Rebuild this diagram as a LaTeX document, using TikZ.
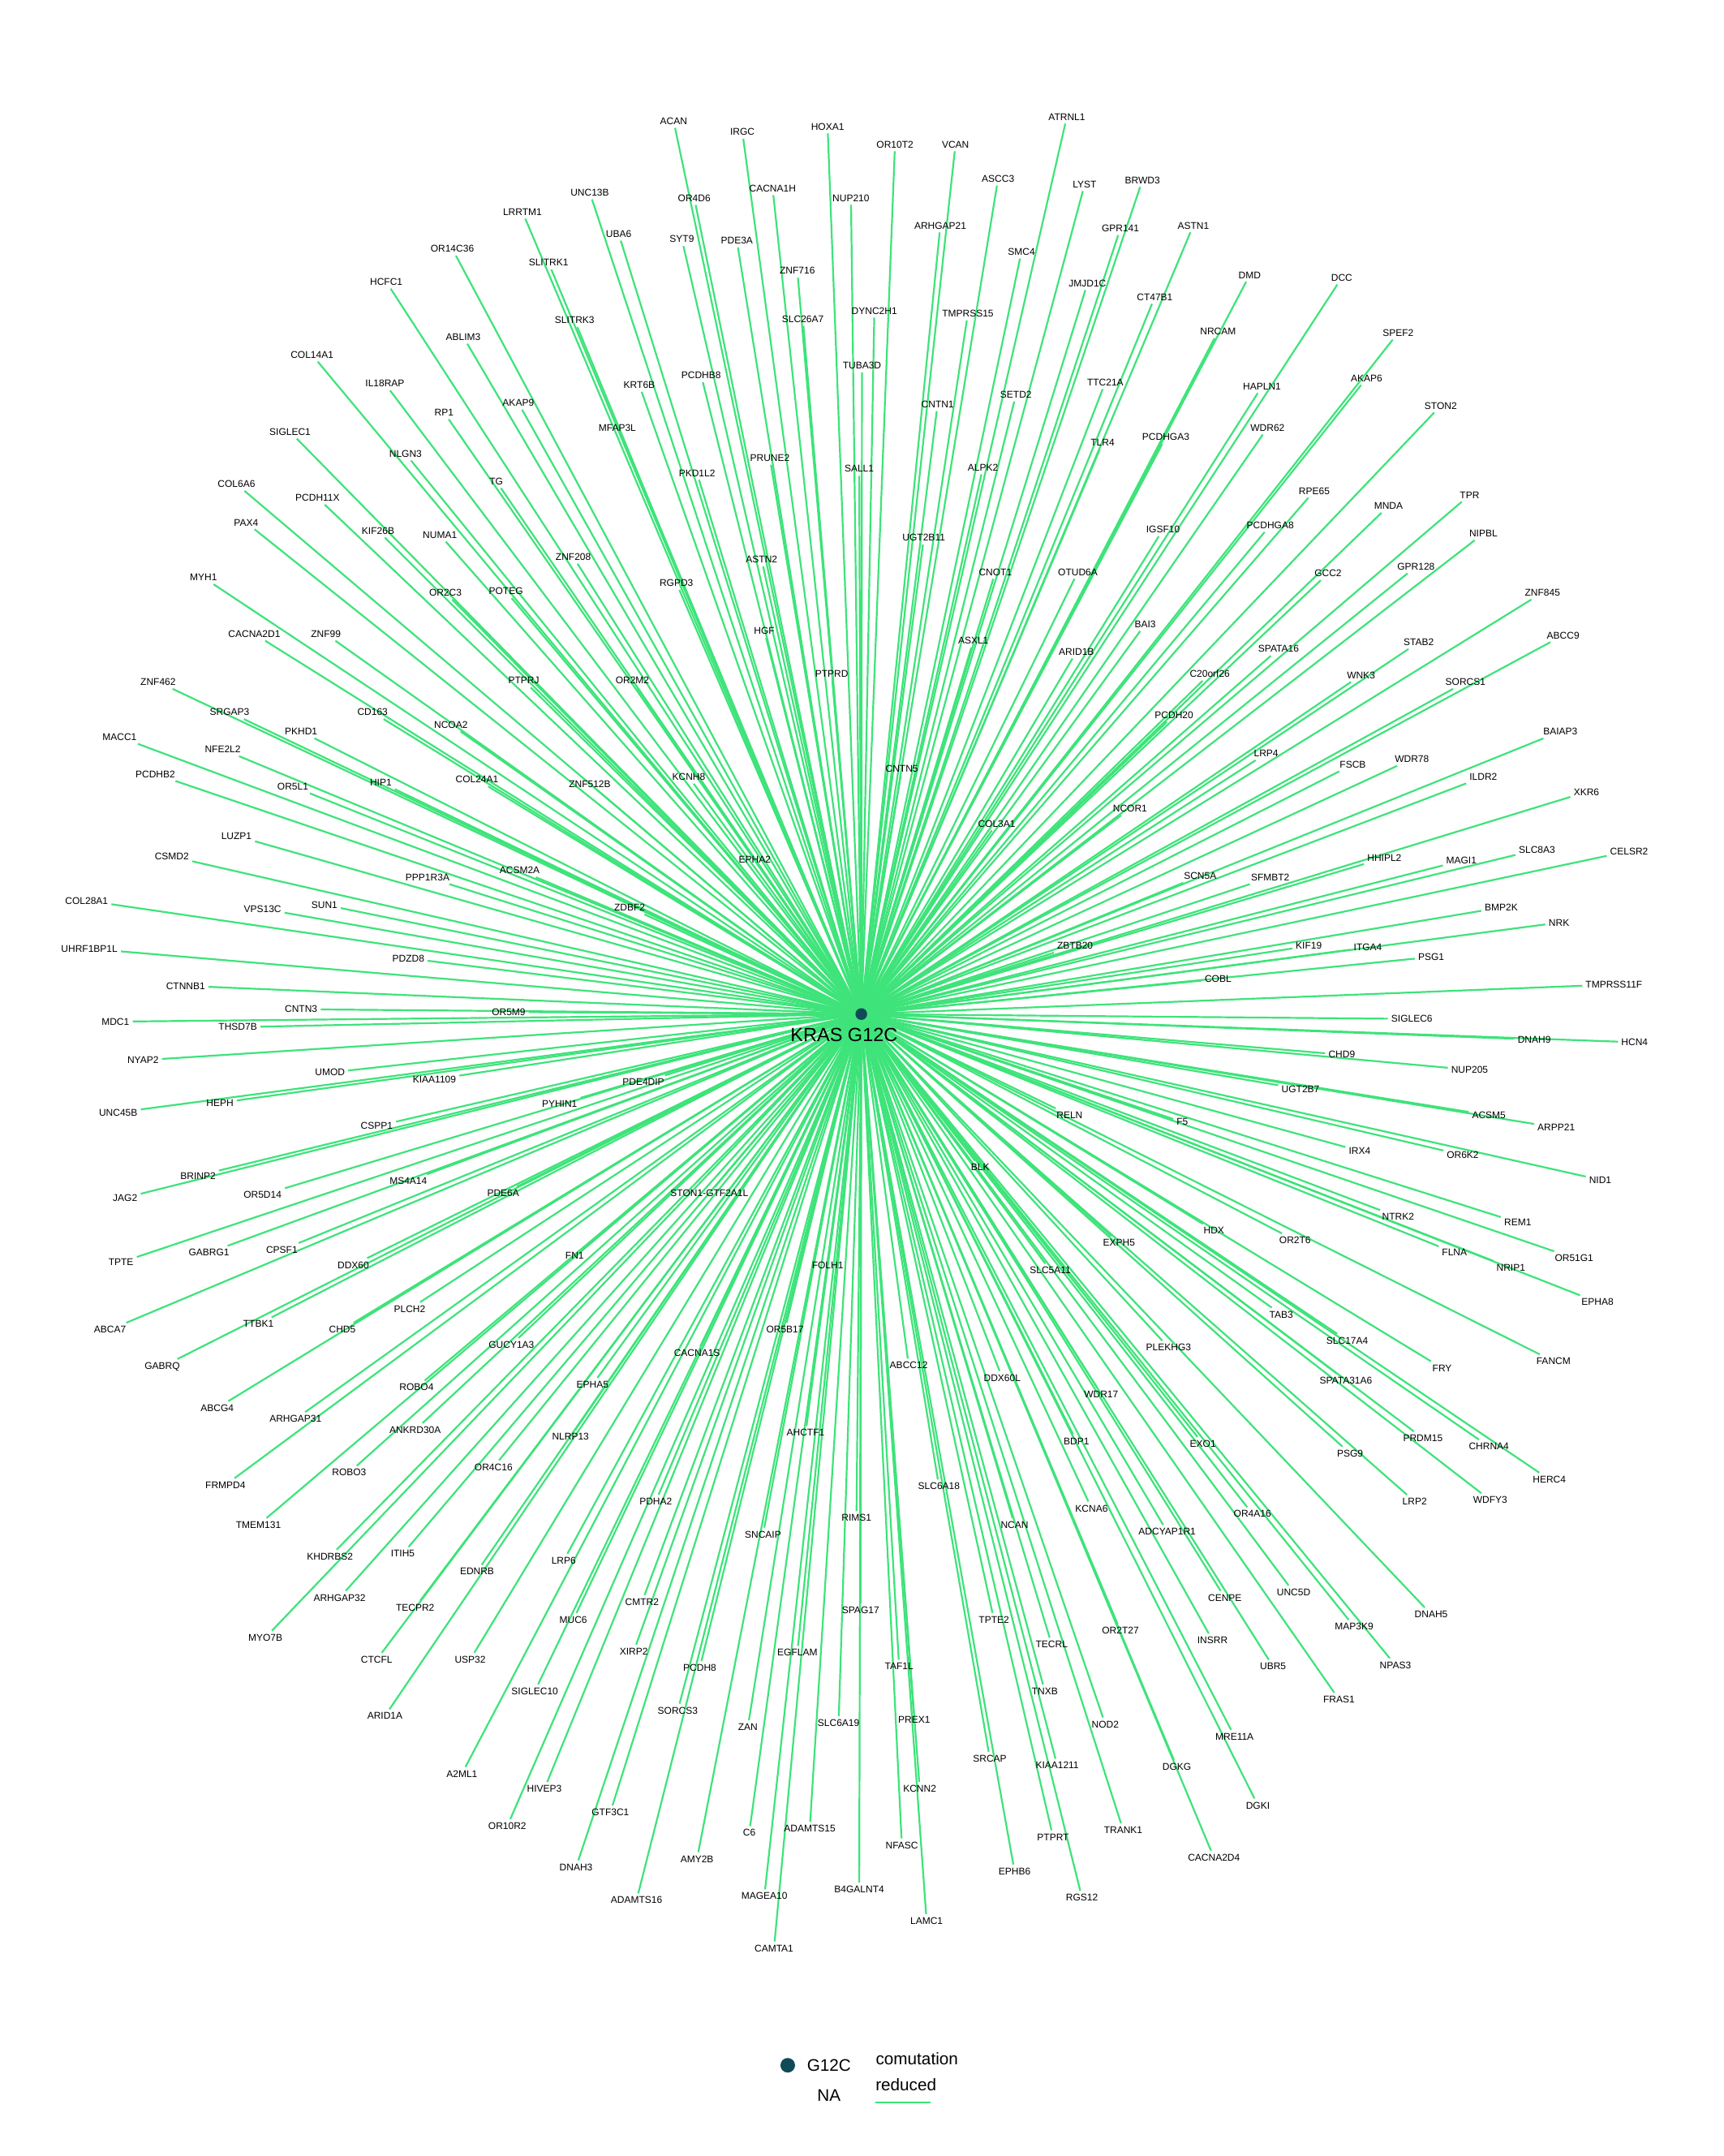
\documentclass[tikz,border=0pt]{standalone}
\usepackage{fontspec}
\setmainfont{Liberation Sans}
\usetikzlibrary{backgrounds}
\definecolor{comut}{RGB}{62,227,122}
\definecolor{hubteal}{RGB}{16,74,88}

\begin{document}
\begin{tikzpicture}[x=1.6946pt,y=-1.6946pt,
  gene/.style={font=\fontsize{12}{14}\selectfont,inner sep=4pt},
  edge/.style={draw=comut,line width=2.2pt},
  hub/.style={circle,fill=hubteal,minimum size=14.5pt,inner sep=0pt},
  legtext/.style={font=\fontsize{20.7}{24}\selectfont,inner sep=0pt}]
\useasboundingbox (0,0) rectangle (1254,1568);

\node[hub] (k) at (626.5,737.5) {};
\node[font=\fontsize{23.5}{28}\selectfont,inner sep=0pt] (klabel) at (614,752.5) {KRAS G12C};

\node[gene] (g1) at (490,88) {ACAN};
\node[gene] (g2) at (540,96) {IRGC};
\node[gene] (g3) at (602,92) {HOXA1};
\node[gene] (g4) at (651,105) {OR10T2};
\node[gene] (g5) at (695,105) {VCAN};
\node[gene] (g6) at (776,85) {ATRNL1};
\node[gene] (g7) at (726,130) {ASCC3};
\node[gene] (g8) at (789,134) {LYST};
\node[gene] (g9) at (831,131) {BRWD3};
\node[gene] (g10) at (429,140) {UNC13B};
\node[gene] (g11) at (505,144) {OR4D6};
\node[gene] (g12) at (562,137) {CACNA1H};
\node[gene] (g13) at (619,144) {NUP210};
\node[gene] (g14) at (380,154) {LRRTM1};
\node[gene] (g15) at (684,164) {ARHGAP21};
\node[gene] (g16) at (815,166) {GPR141};
\node[gene] (g17) at (868,164) {ASTN1};
\node[gene] (g18) at (450,170) {UBA6};
\node[gene] (g19) at (496,174) {SYT9};
\node[gene] (g20) at (536,175) {PDE3A};
\node[gene] (g21) at (329,181) {OR14C36};
\node[gene] (g22) at (743,183) {SMC4};
\node[gene] (g23) at (399,191) {SLITRK1};
\node[gene] (g24) at (580,197) {ZNF716};
\node[gene] (g25) at (909,200) {DMD};
\node[gene] (g26) at (281,205) {HCFC1};
\node[gene] (g27) at (791,206) {JMJD1C};
\node[gene] (g28) at (976,202) {DCC};
\node[gene] (g29) at (840,216) {CT47B1};
\node[gene] (g30) at (636,226) {DYNC2H1};
\node[gene] (g31) at (704,228) {TMPRSS15};
\node[gene] (g32) at (418,233) {SLITRK3};
\node[gene] (g33) at (584,232) {SLC26A7};
\node[gene] (g34) at (337,245) {ABLIM3};
\node[gene] (g35) at (886,241) {NRCAM};
\node[gene] (g36) at (1017,242) {SPEF2};
\node[gene] (g37) at (227,258) {COL14A1};
\node[gene] (g38) at (627,266) {TUBA3D};
\node[gene] (g39) at (510,273) {PCDHB8};
\node[gene] (g40) at (280,279) {IL18RAP};
\node[gene] (g41) at (465,280) {KRT6B};
\node[gene] (g42) at (804,278) {TTC21A};
\node[gene] (g43) at (994,275) {AKAP6};
\node[gene] (g44) at (918,281) {HAPLN1};
\node[gene] (g45) at (739,287) {SETD2};
\node[gene] (g46) at (682,294) {CNTN1};
\node[gene] (g47) at (377,293) {AKAP9};
\node[gene] (g48) at (1048,295) {STON2};
\node[gene] (g49) at (323,300) {RP1};
\node[gene] (g50) at (449,311) {MFAP3L};
\node[gene] (g51) at (211,314) {SIGLEC1};
\node[gene] (g52) at (922,311) {WDR62};
\node[gene] (g53) at (848,318) {PCDHGA3};
\node[gene] (g54) at (802,322) {TLR4};
\node[gene] (g55) at (295,330) {NLGN3};
\node[gene] (g56) at (560,333) {PRUNE2};
\node[gene] (g57) at (715,340) {ALPK2};
\node[gene] (g58) at (625,341) {SALL1};
\node[gene] (g59) at (507,344) {PKD1L2};
\node[gene] (g60) at (361,350) {TG};
\node[gene] (g61) at (172,352) {COL6A6};
\node[gene] (g62) at (956,357) {RPE65};
\node[gene] (g63) at (1069,360) {TPR};
\node[gene] (g64) at (231,362) {PCDH11X};
\node[gene] (g65) at (1010,368) {MNDA};
\node[gene] (g66) at (179,380) {PAX4};
\node[gene] (g67) at (846,385) {IGSF10};
\node[gene] (g68) at (924,382) {PCDHGA8};
\node[gene] (g69) at (275,386) {KIF26B};
\node[gene] (g70) at (320,389) {NUMA1};
\node[gene] (g71) at (1079,388) {NIPBL};
\node[gene] (g72) at (672,391) {UGT2B11};
\node[gene] (g73) at (724,416) {CNOT1};
\node[gene] (g74) at (784,416) {OTUD6A};
\node[gene] (g75) at (1030,412) {GPR128};
\node[gene] (g76) at (966,417) {GCC2};
\node[gene] (g77) at (554,407) {ASTN2};
\node[gene] (g78) at (417,405) {ZNF208};
\node[gene] (g79) at (148,420) {MYH1};
\node[gene] (g80) at (492,424) {RGPD3};
\node[gene] (g81) at (324,431) {OR2C3};
\node[gene] (g82) at (368,430) {POTEG};
\node[gene] (g83) at (1122,431) {ZNF845};
\node[gene] (g84) at (833,454) {BAI3};
\node[gene] (g85) at (556,459) {HGF};
\node[gene] (g86) at (185,461) {CACNA2D1};
\node[gene] (g87) at (237,461) {ZNF99};
\node[gene] (g88) at (1137,462) {ABCC9};
\node[gene] (g89) at (708,466) {ASXL1};
\node[gene] (g90) at (930,472) {SPATA16};
\node[gene] (g91) at (783,474) {ARID1B};
\node[gene] (g92) at (1032,467) {STAB2};
\node[gene] (g93) at (880,490) {C20orf26};
\node[gene] (g94) at (605,490) {PTPRD};
\node[gene] (g95) at (381,495) {PTPRJ};
\node[gene] (g96) at (460,495) {OR2M2};
\node[gene] (g97) at (990,491) {WNK3};
\node[gene] (g98) at (1066,496) {SORCS1};
\node[gene] (g99) at (115,496) {ZNF462};
\node[gene] (g100) at (167,518) {SRGAP3};
\node[gene] (g101) at (271,518) {CD163};
\node[gene] (g102) at (854,520) {PCDH20};
\node[gene] (g103) at (328,527) {NCOA2};
\node[gene] (g104) at (219,532) {PKHD1};
\node[gene] (g105) at (1135,532) {BAIAP3};
\node[gene] (g106) at (87,536) {MACC1};
\node[gene] (g107) at (921,548) {LRP4};
\node[gene] (g108) at (162,545) {NFE2L2};
\node[gene] (g109) at (984,556) {FSCB};
\node[gene] (g110) at (1027,552) {WDR78};
\node[gene] (g111) at (656,559) {CNTN5};
\node[gene] (g112) at (113,563) {PCDHB2};
\node[gene] (g113) at (1079,565) {ILDR2};
\node[gene] (g114) at (501,565) {KCNH8};
\node[gene] (g115) at (277,569) {HIP1};
\node[gene] (g116) at (347,567) {COL24A1};
\node[gene] (g117) at (429,570) {ZNF512B};
\node[gene] (g118) at (213,572) {OR5L1};
\node[gene] (g119) at (1154,576) {XKR6};
\node[gene] (g120) at (725,599) {COL3A1};
\node[gene] (g121) at (822,588) {NCOR1};
\node[gene] (g122) at (172,608) {LUZP1};
\node[gene] (g123) at (1118,618) {SLC8A3};
\node[gene] (g124) at (1185,619) {CELSR2};
\node[gene] (g125) at (125,623) {CSMD2};
\node[gene] (g126) at (1007,624) {HHIPL2};
\node[gene] (g127) at (1063,626) {MAGI1};
\node[gene] (g128) at (549,625) {EPHA2};
\node[gene] (g129) at (311,638) {PPP1R3A};
\node[gene] (g130) at (378,633) {ACSM2A};
\node[gene] (g131) at (873,637) {SCN5A};
\node[gene] (g132) at (924,638) {SFMBT2};
\node[gene] (g133) at (63,655) {COL28A1};
\node[gene] (g134) at (236,658) {SUN1};
\node[gene] (g135) at (191,661) {VPS13C};
\node[gene] (g136) at (458,660) {ZDBF2};
\node[gene] (g137) at (1092,660) {BMP2K};
\node[gene] (g138) at (1134,671) {NRK};
\node[gene] (g139) at (65,690) {UHRF1BP1L};
\node[gene] (g140) at (782,688) {ZBTB20};
\node[gene] (g141) at (952,688) {KIF19};
\node[gene] (g142) at (995,689) {ITGA4};
\node[gene] (g143) at (1041,696) {PSG1};
\node[gene] (g144) at (297,697) {PDZD8};
\node[gene] (g145) at (886,712) {COBL};
\node[gene] (g146) at (1174,716) {TMPRSS11F};
\node[gene] (g147) at (135,717) {CTNNB1};
\node[gene] (g148) at (219,734) {CNTN3};
\node[gene] (g149) at (370,736) {OR5M9};
\node[gene] (g150) at (84,743) {MDC1};
\node[gene] (g151) at (1027,741) {SIGLEC6};
\node[gene] (g152) at (173,747) {THSD7B};
\node[gene] (g153) at (1116,756) {DNAH9};
\node[gene] (g154) at (1189,758) {HCN4};
\node[gene] (g155) at (976,767) {CHD9};
\node[gene] (g156) at (104,771) {NYAP2};
\node[gene] (g157) at (1069,778) {NUP205};
\node[gene] (g158) at (240,780) {UMOD};
\node[gene] (g159) at (316,785) {KIAA1109};
\node[gene] (g160) at (468,787) {PDE4DIP};
\node[gene] (g161) at (946,792) {UGT2B7};
\node[gene] (g162) at (160,802) {HEPH};
\node[gene] (g163) at (407,803) {PYHIN1};
\node[gene] (g164) at (1083,811) {ACSM5};
\node[gene] (g165) at (778,811) {RELN};
\node[gene] (g166) at (860,816) {F5};
\node[gene] (g167) at (86,809) {UNC45B};
\node[gene] (g168) at (1132,820) {ARPP21};
\node[gene] (g169) at (274,819) {CSPP1};
\node[gene] (g170) at (989,837) {IRX4};
\node[gene] (g171) at (1064,840) {OR6K2};
\node[gene] (g172) at (713,849) {BLK};
\node[gene] (g173) at (1164,858) {NID1};
\node[gene] (g174) at (144,855) {BRINP2};
\node[gene] (g175) at (297,859) {MS4A14};
\node[gene] (g176) at (191,869) {OR5D14};
\node[gene] (g177) at (366,868) {PDE6A};
\node[gene] (g178) at (91,871) {JAG2};
\node[gene] (g179) at (516,868) {STON1-GTF2A1L};
\node[gene] (g180) at (1017,885) {NTRK2};
\node[gene] (g181) at (1104,889) {REM1};
\node[gene] (g182) at (883,895) {HDX};
\node[gene] (g183) at (942,902) {OR2T6};
\node[gene] (g184) at (814,904) {EXPH5};
\node[gene] (g185) at (1058,911) {FLNA};
\node[gene] (g186) at (1145,915) {OR51G1};
\node[gene] (g187) at (88,918) {TPTE};
\node[gene] (g188) at (152,911) {GABRG1};
\node[gene] (g189) at (205,909) {CPSF1};
\node[gene] (g190) at (418,913) {FN1};
\node[gene] (g191) at (257,920) {DDX60};
\node[gene] (g192) at (602,920) {FOLH1};
\node[gene] (g193) at (1099,922) {NRIP1};
\node[gene] (g194) at (764,924) {SLC5A11};
\node[gene] (g195) at (1162,947) {EPHA8};
\node[gene] (g196) at (298,952) {PLCH2};
\node[gene] (g197) at (932,956) {TAB3};
\node[gene] (g198) at (188,963) {TTBK1};
\node[gene] (g199) at (80,967) {ABCA7};
\node[gene] (g200) at (249,967) {CHD5};
\node[gene] (g201) at (571,967) {OR5B17};
\node[gene] (g202) at (980,975) {SLC17A4};
\node[gene] (g203) at (372,978) {GUCY1A3};
\node[gene] (g204) at (850,980) {PLEKHG3};
\node[gene] (g205) at (507,984) {CACNA1S};
\node[gene] (g206) at (1049,995) {FRY};
\node[gene] (g207) at (118,994) {GABRQ};
\node[gene] (g208) at (1130,990) {FANCM};
\node[gene] (g209) at (661,993) {ABCC12};
\node[gene] (g210) at (729,1002) {DDX60L};
\node[gene] (g211) at (979,1004) {SPATA31A6};
\node[gene] (g212) at (303,1009) {ROBO4};
\node[gene] (g213) at (431,1007) {EPHA5};
\node[gene] (g214) at (801,1014) {WDR17};
\node[gene] (g215) at (158,1024) {ABCG4};
\node[gene] (g216) at (215,1032) {ARHGAP31};
\node[gene] (g217) at (302,1040) {ANKRD30A};
\node[gene] (g218) at (586,1042) {AHCTF1};
\node[gene] (g219) at (415,1045) {NLRP13};
\node[gene] (g220) at (783,1048) {BDP1};
\node[gene] (g221) at (1035,1046) {PRDM15};
\node[gene] (g222) at (875,1050) {EXO1};
\node[gene] (g223) at (1083,1052) {CHRNA4};
\node[gene] (g224) at (982,1057) {PSG9};
\node[gene] (g225) at (359,1067) {OR4C16};
\node[gene] (g226) at (254,1071) {ROBO3};
\node[gene] (g227) at (164,1080) {FRMPD4};
\node[gene] (g228) at (683,1081) {SLC6A18};
\node[gene] (g229) at (1127,1076) {HERC4};
\node[gene] (g230) at (477,1092) {PDHA2};
\node[gene] (g231) at (1029,1092) {LRP2};
\node[gene] (g232) at (1084,1091) {WDFY3};
\node[gene] (g233) at (794,1097) {KCNA6};
\node[gene] (g234) at (911,1101) {OR4A16};
\node[gene] (g235) at (623,1104) {RIMS1};
\node[gene] (g236) at (738,1109) {NCAN};
\node[gene] (g237) at (188,1109) {TMEM131};
\node[gene] (g238) at (849,1114) {ADCYAP1R1};
\node[gene] (g239) at (555,1116) {SNCAIP};
\node[gene] (g240) at (293,1130) {ITIH5};
\node[gene] (g241) at (240,1132) {KHDRBS2};
\node[gene] (g242) at (347,1143) {EDNRB};
\node[gene] (g243) at (410,1135) {LRP6};
\node[gene] (g244) at (247,1162) {ARHGAP32};
\node[gene] (g245) at (891,1162) {CENPE};
\node[gene] (g246) at (941,1158) {UNC5D};
\node[gene] (g247) at (302,1169) {TECPR2};
\node[gene] (g248) at (467,1165) {CMTR2};
\node[gene] (g249) at (626,1171) {SPAG17};
\node[gene] (g250) at (1041,1174) {DNAH5};
\node[gene] (g251) at (723,1178) {TPTE2};
\node[gene] (g252) at (417,1178) {MUC6};
\node[gene] (g253) at (985,1183) {MAP3K9};
\node[gene] (g254) at (815,1186) {OR2T27};
\node[gene] (g255) at (193,1191) {MYO7B};
\node[gene] (g256) at (882,1193) {INSRR};
\node[gene] (g257) at (765,1196) {TECRL};
\node[gene] (g258) at (461,1201) {XIRP2};
\node[gene] (g259) at (580,1202) {EGFLAM};
\node[gene] (g260) at (274,1207) {CTCFL};
\node[gene] (g261) at (342,1207) {USP32};
\node[gene] (g262) at (926,1212) {UBR5};
\node[gene] (g263) at (1015,1211) {NPAS3};
\node[gene] (g264) at (509,1213) {PCDH8};
\node[gene] (g265) at (654,1212) {TAF1L};
\node[gene] (g266) at (389,1230) {SIGLEC10};
\node[gene] (g267) at (760,1230) {TNXB};
\node[gene] (g268) at (974,1236) {FRAS1};
\node[gene] (g269) at (493,1244) {SORCS3};
\node[gene] (g270) at (280,1248) {ARID1A};
\node[gene] (g271) at (665,1251) {PREX1};
\node[gene] (g272) at (610,1253) {SLC6A19};
\node[gene] (g273) at (804,1254) {NOD2};
\node[gene] (g274) at (544,1256) {ZAN};
\node[gene] (g275) at (898,1263) {MRE11A};
\node[gene] (g276) at (720,1279) {SRCAP};
\node[gene] (g277) at (769,1284) {KIAA1211};
\node[gene] (g278) at (856,1285) {DGKG};
\node[gene] (g279) at (336,1290) {A2ML1};
\node[gene] (g280) at (669,1301) {KCNN2};
\node[gene] (g281) at (396,1301) {HIVEP3};
\node[gene] (g282) at (915,1313) {DGKI};
\node[gene] (g283) at (444,1318) {GTF3C1};
\node[gene] (g284) at (369,1328) {OR10R2};
\node[gene] (g285) at (589,1330) {ADAMTS15};
\node[gene] (g286) at (545,1333) {C6};
\node[gene] (g287) at (817,1331) {TRANK1};
\node[gene] (g288) at (766,1336) {PTPRT};
\node[gene] (g289) at (656,1342) {NFASC};
\node[gene] (g290) at (883,1351) {CACNA2D4};
\node[gene] (g291) at (507,1352) {AMY2B};
\node[gene] (g292) at (419,1358) {DNAH3};
\node[gene] (g293) at (738,1361) {EPHB6};
\node[gene] (g294) at (625,1374) {B4GALNT4};
\node[gene] (g295) at (556,1379) {MAGEA10};
\node[gene] (g296) at (787,1380) {RGS12};
\node[gene] (g297) at (463,1382) {ADAMTS16};
\node[gene] (g298) at (674,1397) {LAMC1};
\node[gene] (g299) at (563,1417) {CAMTA1};

\begin{pgfonlayer}{background}
\foreach \i in {1,...,299}
  \draw[edge] (k) -- (g\i);
\end{pgfonlayer}

% legend
\node[hub,minimum size=18pt] (legdot) at (573,1502) {};
\node[legtext] (legg) at (603,1502) {G12C};
\node[legtext] (legna) at (603,1524) {NA};
\node[legtext] (legcom) at (667,1497) {comutation};
\node[legtext] (legred) at (659,1516) {reduced};
\coordinate (legA) at (637,1529);
\coordinate (legB) at (677,1529);
\draw[edge] (legA) -- (legB);
\end{tikzpicture}
\end{document}
